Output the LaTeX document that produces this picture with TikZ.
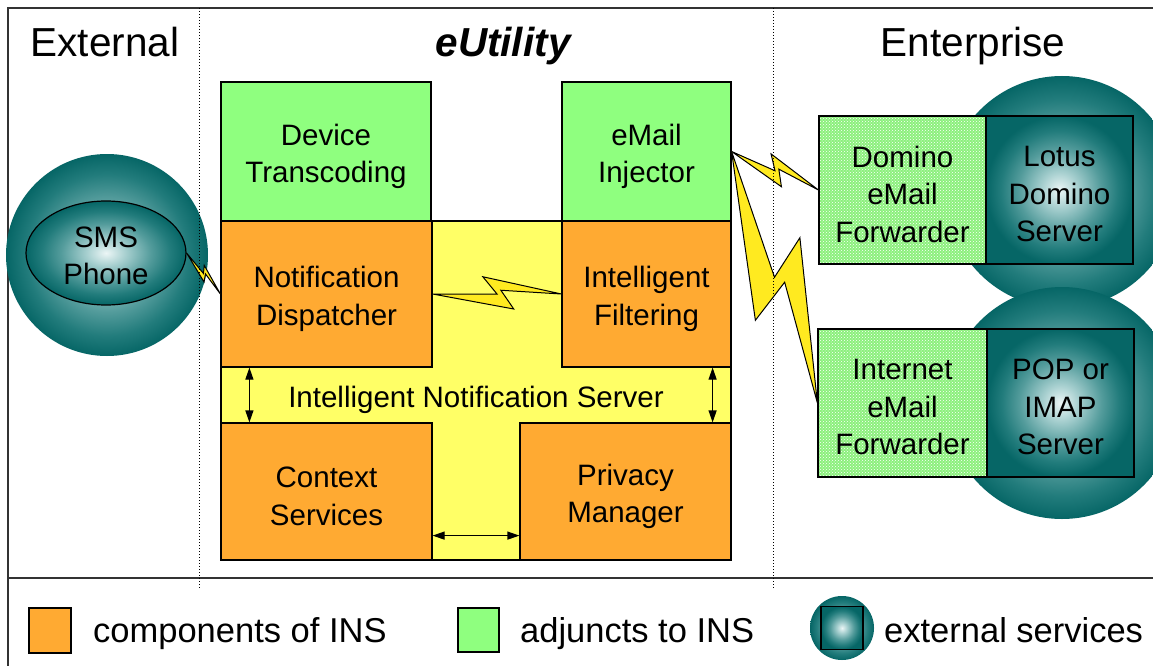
\documentclass[tikz,border=0pt]{standalone}
\usepackage{fontspec}
\setmainfont{Liberation Sans}
\usetikzlibrary{calc,patterns,arrows.meta,shapes.geometric}

\definecolor{insorange}{RGB}{255,170,50}
\definecolor{adjgreen}{RGB}{143,255,127}
\definecolor{fwdgreen}{RGB}{140,240,125}
\definecolor{insyellow}{RGB}{255,255,102}
\definecolor{boltyellow}{RGB}{255,234,32}
\definecolor{teal0}{RGB}{236,246,246}
\definecolor{teal1}{RGB}{168,208,208}
\definecolor{teal2}{RGB}{84,156,156}
\definecolor{teal3}{RGB}{34,124,124}
\definecolor{teal4}{RGB}{6,102,102}

\pgfdeclareradialshading{sphere}{\pgfpoint{0bp}{0bp}}{%
  color(0bp)=(teal0); color(6bp)=(teal1); color(14bp)=(teal2);
  color(20bp)=(teal3); color(25bp)=(teal4); color(50bp)=(teal4)}

\newcommand\bxfont{\fontsize{29.5}{37.5}\selectfont}
\newcommand\hdfont{\fontsize{40.5}{46}\selectfont}
\newcommand\lgfont{\fontsize{34.5}{40}\selectfont}

% lightning bolt between two points, #3 = half width in pt
\newcommand\drawbolt[3]{%
  \pgfmathsetmacro\bwa{1.15*#3}%
  \pgfmathsetmacro\bwb{0.25*#3}%
  \filldraw[bolt] (#1) -- ($(#1)!0.5!(#2)$)
    -- ($(#1)!0.39!(#2)!\bwa pt!90:(#2)$)
    -- (#2)
    -- ($(#1)!0.53!(#2)!\bwb pt!90:(#2)$)
    -- ($(#1)!0.63!(#2)!#3pt!-90:(#2)$) -- cycle;}

\begin{document}
\begin{tikzpicture}[x=1pt,y=-1pt,
  lbl/.style={inner sep=0pt, align=center, font=\bxfont, yshift=-5pt},
  lbl3/.style={lbl, yshift=1pt},
  comp/.style={draw, line width=1.2pt, fill=insorange, inner sep=0pt},
  adj/.style={draw, line width=1.2pt, fill=adjgreen, inner sep=0pt},
  fwd/.style={draw, line width=1.2pt, preaction={fill=fwdgreen}, pattern=crosshatch dots, pattern color=white, inner sep=0pt},
  srv/.style={draw, line width=1.2pt, shade, shading=sphere, inner sep=0pt},
  globe/.style={circle, shade, shading=sphere, inner sep=0pt},
  bolt/.style={fill=boltyellow, draw=black, line width=1pt, line join=miter},
  dbl/.style={{Triangle[length=12pt,width=8pt]}-{Triangle[length=12pt,width=8pt]}, line width=1.2pt},
  rule/.style={line width=1.5pt, draw=black!80},
  sep/.style={dotted, line width=1pt},
  legtext/.style={font=\lgfont, anchor=base west, inner sep=0pt}
]
\useasboundingbox (0,0) rectangle (1153,666);
\fill[white] (0,0) rectangle (1153,666);

% frame and legend separator
\draw[rule] (8,666) -- (8,8) -- (1153,8);
\draw[rule] (8,578) -- (1153,578);

% column headings
\node[font=\hdfont, anchor=base] (hext) at (105,57) {External};
\node[font=\hdfont\bfseries\itshape, anchor=base] (hutil) at (503,57) {eUtility};
\node[font=\hdfont, anchor=base] (hent) at (973,57) {Enterprise};

% external services (spheres)
\node[globe, minimum size=202] (smsglobe) at (107,255) {};
\node[draw, line width=1.2pt, shape=ellipse, shade, shading=sphere, minimum width=160, minimum height=104, inner sep=0pt,
      label={[lbl, yshift=2pt]center:SMS\\Phone}] (sms) at (106,253) {};

\node[globe, minimum size=232] (ldglobe) at (1062,192) {};
\node[globe, minimum size=232] (popglobe) at (1062,403) {};

% Intelligent Notification Server
\node[draw, line width=1.2pt, fill=insyellow, minimum width=510, minimum height=339, inner sep=0pt] (INS) at (476,390.5) {};
\node[font=\bxfont, anchor=base] (inslabel) at (476,407) {Intelligent Notification Server};

\node[adj, minimum width=210, minimum height=139, label={[lbl]center:Device\\Transcoding}] (DT) at (326,151.5) {};
\node[adj, minimum width=169, minimum height=139, label={[lbl]center:eMail\\Injector}] (EI) at (646.5,151.5) {};
\node[comp, minimum width=211, minimum height=146, label={[lbl]center:Notification\\Dispatcher}] (ND) at (326.5,294) {};
\node[comp, minimum width=169, minimum height=146, label={[lbl]center:Intelligent\\Filtering}] (IF) at (646.5,294) {};
\node[comp, minimum width=211, minimum height=137, label={[lbl]center:Context\\Services}] (CS) at (326.5,491.5) {};
\node[comp, minimum width=211, minimum height=137, label={[lbl]center:Privacy\\Manager}] (PM) at (625.5,491.5) {};

% enterprise side
\node[fwd, minimum width=167, minimum height=148, label={[lbl3]center:Domino\\eMail\\Forwarder}] (DF) at (902.5,190) {};
\node[srv, minimum width=147, minimum height=148, label={[lbl3]center:Lotus\\Domino\\Server}] (LD) at (1059.5,190) {};
\node[fwd, minimum width=169, minimum height=148, label={[lbl3]center:Internet\\eMail\\Forwarder}] (IEF) at (902.5,403) {};
\node[srv, minimum width=147, minimum height=148, label={[lbl3]center:POP or\\IMAP\\Server}] (POP) at (1060.5,403) {};

% wireless links
\drawbolt{sms.east}{ND.west}{5}
\drawbolt{ND.east}{IF.west}{15}
\drawbolt{EI.east}{DF.west}{12}
\drawbolt{EI.east}{IEF.west}{32}

% internal links
\draw[dbl] ([xshift=29pt]ND.south west) -- ([xshift=29pt]CS.north west);
\draw[dbl] ([xshift=-19pt]IF.south east) -- ([xshift=-19pt]PM.north east);
\draw[dbl] ([yshift=25pt]CS.south east) -- ([yshift=25pt]PM.south west);

% column separators
\draw[sep] (199,8) -- (199,588);
\draw[sep] (773,8) -- (773,588);

% legend
\node[comp, minimum width=42, minimum height=45] (lgcomp) at (50,630.5) {};
\node[legtext] (lgcompt) at (93,642) {components of INS};
\node[adj, minimum width=41, minimum height=44] (lgadj) at (478.5,630) {};
\node[legtext] (lgadjt) at (520,642) {adjuncts to INS};
\node[globe, minimum size=64] (lgglobe) at (842,628) {};
\node[srv, minimum width=42, minimum height=43] (lgsrv) at (842,628) {};
\node[legtext] (lgsrvt) at (884,642) {external services};
\end{tikzpicture}
\end{document}
